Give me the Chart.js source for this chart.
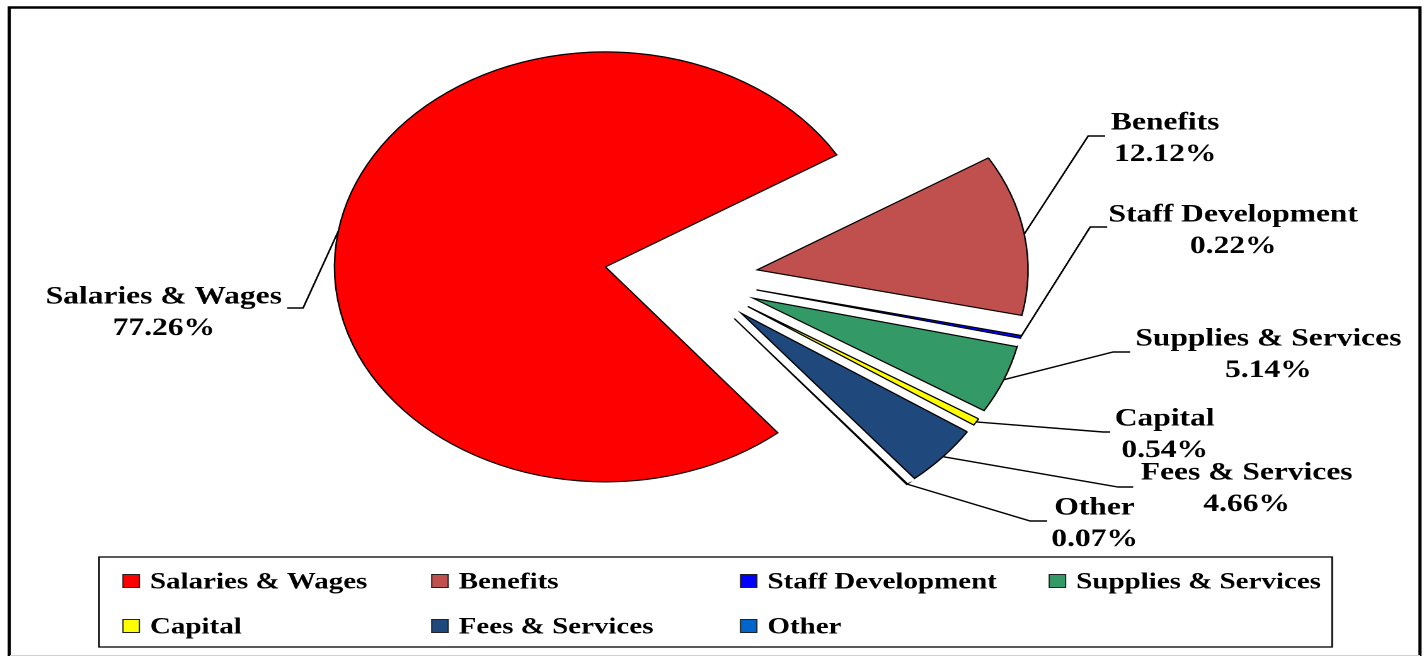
<!DOCTYPE html>
<html>
<head>
<meta charset="utf-8">
<script src="https://cdn.jsdelivr.net/npm/chart.js"></script>
<style>
  html, body { margin: 0; padding: 0; background: #fff; overflow: hidden; }
  #grafico { display: block; width: 1424px !important; height: 656px !important; }
</style>
</head>
<body>
<canvas id="grafico" width="1130" height="656" style="width:1424px;height:656px"></canvas>
<script>
// DADOS DO GRAFICO
const categorias = ['Salaries & Wages', 'Benefits', 'Staff Development', 'Supplies & Services', 'Capital', 'Fees & Services', 'Other'];
const percentuais = [77.26, 12.12, 0.22, 5.14, 0.54, 4.66, 0.07];
const cores = ['#FF0000', '#C0504D', '#0000FF', '#339966', '#FFFF00', '#1F497D', '#0066CC'];

// LAYOUT (o canvas tem 1130 de largura e e esticado para 1424, como a imagem original)
const explosao = [70, 52, 52, 52, 52, 52, 52];
// [x do centro do texto, y da 1a linha, cotovelo x, cotovelo y, fim da linha x]
const rotulos = [
  [130, 295, 240.5, 308, 227.8],
  [924.6, 121, 863.5, 136, 877],
  [978.6, 213, 865.1, 227, 878.6],
  [1006.5, 337, 883.3, 352, 896.8],
  [924.2, 417, 875.4, 432, 881],
  [989.3, 471, 887.3, 487, 899.2],
  [868.6, 506, 817.5, 521, 831]
];

const fonteSerif = '"Liberation Serif", "Times New Roman", serif';

// desloca cada fatia ao longo da bissetriz (explodido)
const pluginExplosao = {
  id: 'explosao',
  afterUpdate(chart) {
    const area = chart.chartArea;
    const cx = (area.left + area.right) / 2;
    const cy = (area.top + area.bottom) / 2;
    chart.getDatasetMeta(0).data.forEach((arco, i) => {
      const meio = (arco.startAngle + arco.endAngle) / 2;
      arco.x = cx + Math.cos(meio) * explosao[i];
      arco.y = cy + Math.sin(meio) * explosao[i];
    });
  }
};

// moldura externa
const pluginMoldura = {
  id: 'moldura',
  beforeDraw(chart) {
    const ctx = chart.ctx;
    ctx.save();
    ctx.strokeStyle = '#000';
    ctx.lineWidth = 2.5;
    ctx.strokeRect(7.3, 7.5, 1119.5, 700);
    ctx.strokeStyle = '#d0d0d0';
    ctx.lineWidth = 1;
    ctx.beginPath();
    ctx.moveTo(8, 655.5);
    ctx.lineTo(1127, 655.5);
    ctx.stroke();
    ctx.restore();
  }
};

// rotulos com linhas de chamada
const pluginRotulos = {
  id: 'rotulos',
  afterDatasetsDraw(chart) {
    const ctx = chart.ctx;
    const meta = chart.getDatasetMeta(0);
    ctx.save();
    ctx.strokeStyle = '#000';
    ctx.lineWidth = 1.4;
    ctx.fillStyle = '#000';
    ctx.font = 'bold 25px ' + fonteSerif;
    ctx.textAlign = 'center';
    ctx.textBaseline = 'alphabetic';
    meta.data.forEach((arco, i) => {
      const meio = (arco.startAngle + arco.endAngle) / 2;
      const ax = arco.x + Math.cos(meio) * arco.outerRadius;
      const ay = arco.y + Math.sin(meio) * arco.outerRadius;
      const [tx, ty, ex, ey, fx] = rotulos[i];
      ctx.beginPath();
      ctx.moveTo(ax, ay);
      ctx.lineTo(ex, ey);
      ctx.lineTo(fx, ey);
      ctx.stroke();
      ctx.fillText(categorias[i], tx, ty + 8.5);
      ctx.fillText(percentuais[i].toFixed(2) + '%', tx, ty + 31.5 + 8.5);
    });
    ctx.restore();
  }
};

// legenda em caixa, 4 colunas
const pluginLegenda = {
  id: 'legenda',
  afterDraw(chart) {
    const ctx = chart.ctx;
    ctx.save();
    ctx.strokeStyle = '#000';
    ctx.lineWidth = 1.3;
    ctx.strokeRect(78.6, 557, 978.5, 90);
    ctx.font = 'bold 23px ' + fonteSerif;
    ctx.textAlign = 'left';
    ctx.textBaseline = 'alphabetic';
    categorias.forEach((nome, i) => {
      const col = i % 4;
      const lin = Math.floor(i / 4);
      const x = 97.6 + col * 245;
      const y = 581 + lin * 45;
      ctx.fillStyle = cores[i];
      ctx.fillRect(x, y - 6.5, 13, 13);
      ctx.lineWidth = 1;
      ctx.strokeStyle = '#222';
      ctx.strokeRect(x, y - 6.5, 13, 13);
      ctx.fillStyle = '#000';
      ctx.fillText(nome, x + 21.4, y + 7.6);
    });
    ctx.restore();
  }
};

function criarGraficoPizza(elementId) {
  const ctx = document.getElementById(elementId);
  new Chart(ctx, {
    type: 'pie',
    data: {
      labels: categorias,
      datasets: [{
        data: percentuais,
        backgroundColor: cores,
        borderColor: '#000',
        borderWidth: 1.2,
        borderJoinStyle: 'miter'
      }]
    },
    options: {
      responsive: false,
      devicePixelRatio: 2,
      animation: false,
      events: [],
      rotation: 140.5,
      radius: 215,
      layout: { padding: { left: 0, right: 31, top: 0, bottom: 99 } },
      plugins: {
        legend: { display: false },
        tooltip: { enabled: false }
      }
    },
    plugins: [pluginMoldura, pluginExplosao, pluginRotulos, pluginLegenda]
  });
}

criarGraficoPizza('grafico');
</script>
</body>
</html>
